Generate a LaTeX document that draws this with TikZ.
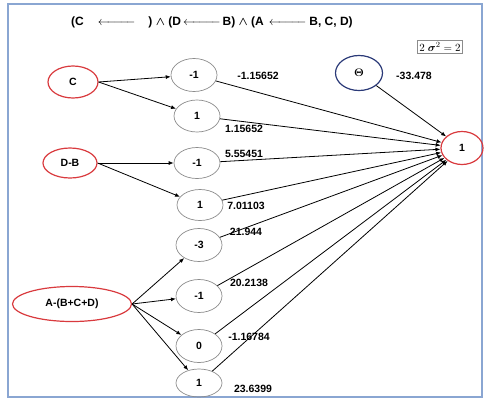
\documentclass[tikz,border=0pt]{standalone}
\usepackage{fontspec}
\setmainfont{Liberation Sans}
\usepackage{amsmath}
\usepackage{tikz}
\usetikzlibrary{shapes.geometric, arrows.meta, positioning}
\definecolor{framebl}{HTML}{8AA6D2}
\definecolor{inred}{HTML}{D93A3E}
\definecolor{hidgray}{HTML}{8C8C8C}
\definecolor{biasblue}{HTML}{2B3A78}
\tikzstyle{innode} = [ellipse, draw=inred, line width=1.2pt, minimum width=50pt, minimum height=32pt, inner sep=0pt]
\tikzstyle{hidnode} = [ellipse, draw=hidgray, line width=0.7pt, minimum width=46pt, minimum height=33pt, inner sep=0pt]
\tikzstyle{wlabel} = [font=\bfseries\fontsize{10.5}{12}\selectfont, inner sep=0pt]
\tikzstyle{arrow} = [line width=0.8pt, -{Latex[length=5pt,width=4pt]}]

\begin{document}
\begin{tikzpicture}[x=1pt, y=-1pt, every node/.style={font=\bfseries\fontsize{10.5}{12}\selectfont}]
    \useasboundingbox (0,0) rectangle (484,402);
    \draw[framebl, line width=1.5pt] (8,4) rectangle (482,397);

    \node[anchor=west, inner sep=0pt, font=\bfseries\fontsize{12}{13}\selectfont] (title) at (71,22) {(C\hspace{14pt}$\xleftarrow{\hspace{31pt}}$\hspace{13pt}) $\boldsymbol{\wedge}$ (D\hspace{2pt}$\xleftarrow{\hspace{31pt}}$\hspace{2pt}B) $\boldsymbol{\wedge}$ (A\hspace{5pt}$\xleftarrow{\hspace{31pt}}$\hspace{3pt}B, C, D)};
    \node[draw=hidgray, line width=1pt, inner sep=1.5pt, font=\fontsize{11}{12}\selectfont] (var) at (440,47) {$2\;\boldsymbol{\sigma}^2 = 2$};

    % inputs
    \node[innode] (c) at (73,82) {C};
    \node[innode, minimum width=54pt, minimum height=30pt] (db) at (70,163) {D-B};
    \node[innode, minimum width=119pt, minimum height=35pt] (abcd) at (72,304) {A-(B+C+D)};

    % hidden nodes
    \node[hidnode] (h1) at (194,75) {-1};
    \node[hidnode, minimum height=32pt] (h2) at (197,116) {1};
    \node[hidnode, minimum height=31pt] (h3) at (197,163) {-1};
    \node[hidnode, minimum height=31pt] (h4) at (200,205) {1};
    \node[hidnode] (h5) at (199,245) {-3};
    \node[hidnode] (h6) at (199,296) {-1};
    \node[hidnode] (h7) at (199,346) {0};
    \node[hidnode, minimum height=28pt] (h8) at (199,383) {1};

    % bias and output
    \node[ellipse, draw=biasblue, line width=1.2pt, minimum width=47pt, minimum height=35pt, inner sep=0pt] (theta) at (359,73) {$\boldsymbol{\Theta}$};
    \node[innode, minimum width=42pt, minimum height=33pt] (out) at (462,148) {1};

    \draw[arrow] (c.east) -- (h1);
    \draw[arrow] (c.east) -- (h2);
    \draw[arrow] (db.east) -- (h3);
    \draw[arrow] (db.east) -- (h4);
    \foreach \h in {h5,h6,h7,h8}
        \draw[arrow] (abcd.east) -- (\h);

    \foreach \h in {h1,h2,h3,h4,h5,h6,h7,h8}
        \draw[arrow] (\h) -- (out);
    \draw[arrow] (theta) -- (out);

    % weights
    \node[wlabel] (w1) at (258,76) {-1.15652};
    \node[wlabel] (w2) at (244,129) {1.15652};
    \node[wlabel] (w3) at (244,154) {5.55451};
    \node[wlabel] (w4) at (246,206) {7.01103};
    \node[wlabel] (w5) at (246,232) {21.944};
    \node[wlabel] (w6) at (249,283) {20.2138};
    \node[wlabel] (w7) at (249,337) {-1.16784};
    \node[wlabel] (w8) at (253,389) {23.6399};
    \node[wlabel] (wt) at (414,76) {-33.478};
\end{tikzpicture}
\end{document}
